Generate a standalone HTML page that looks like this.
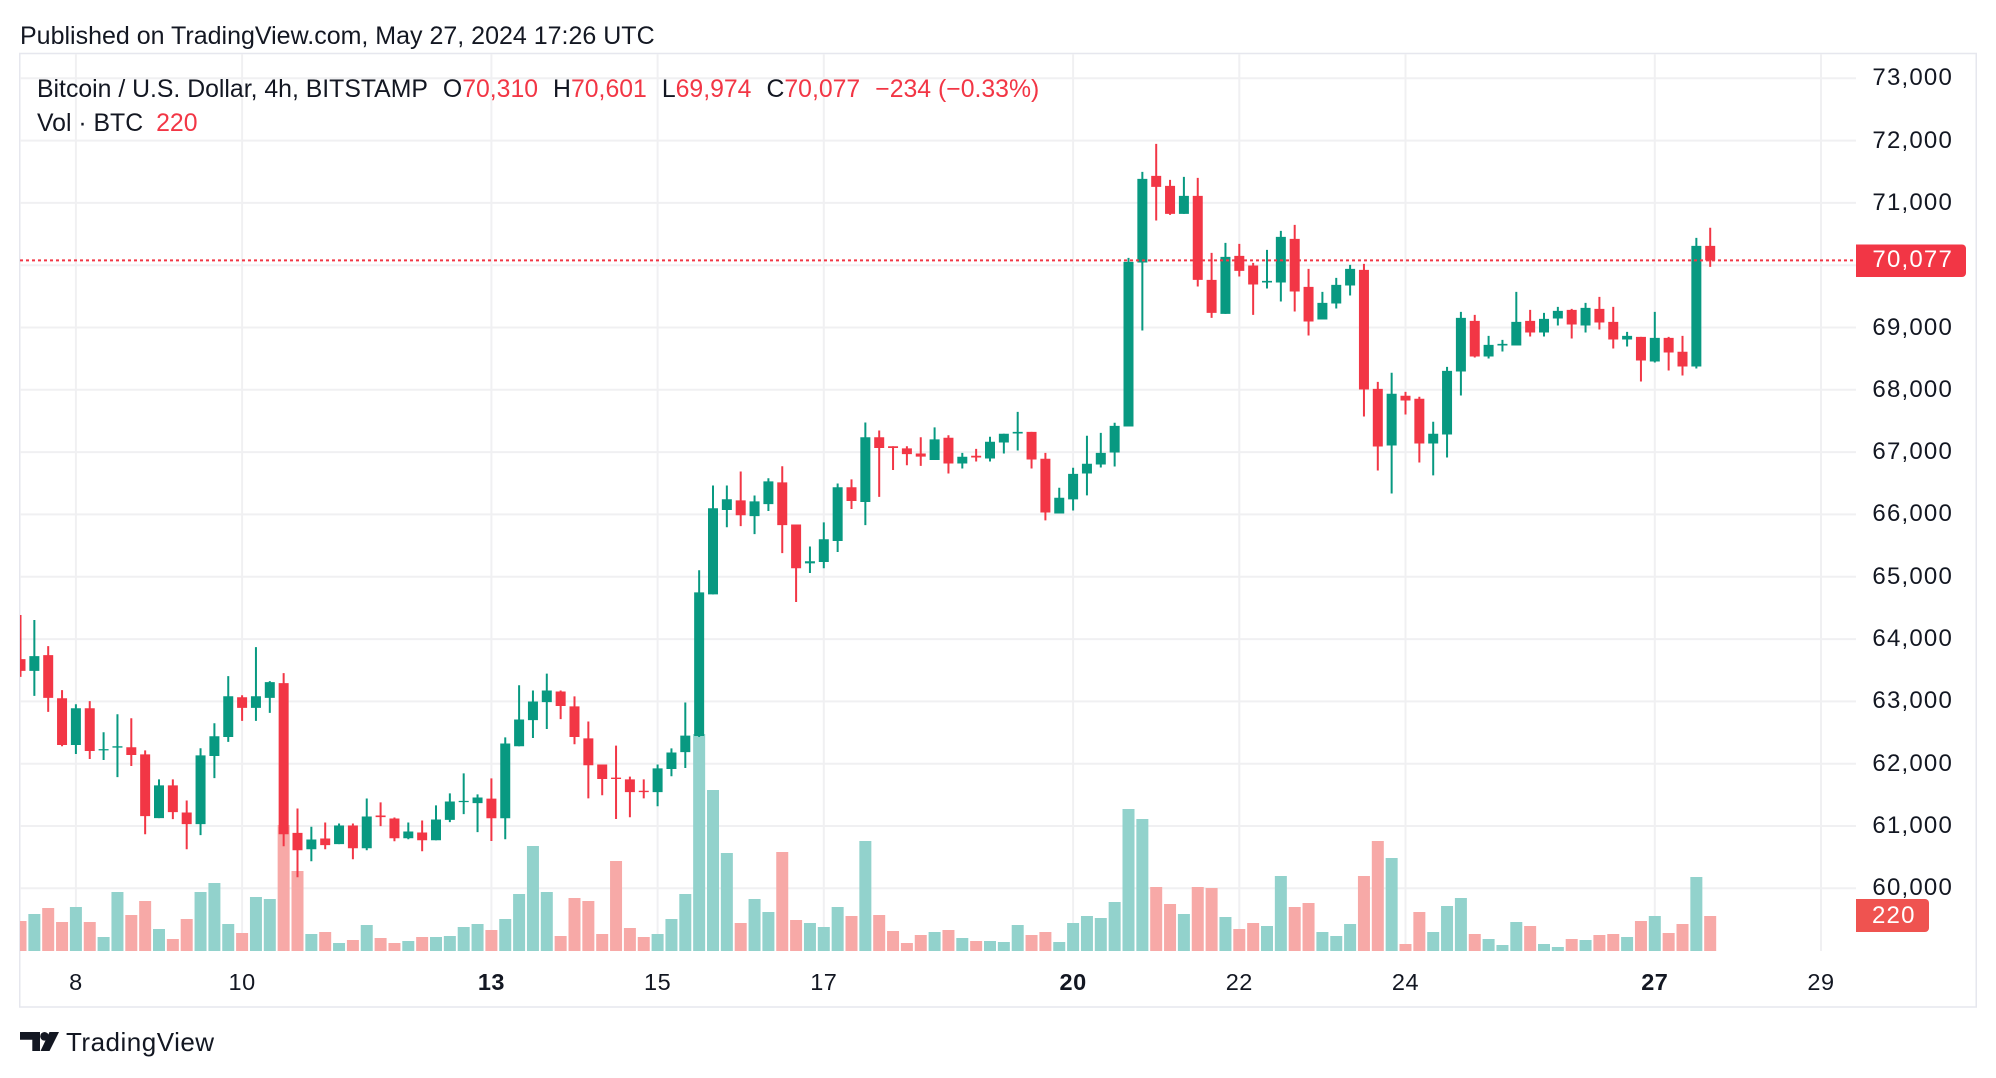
<!DOCTYPE html>
<html><head><meta charset="utf-8"><style>
html,body{margin:0;padding:0;background:#fff;}
body{width:1996px;height:1078px;position:relative;overflow:hidden;font-family:"Liberation Sans",sans-serif;color:#131722;}
.t{position:absolute;white-space:nowrap;line-height:1;}
.r{color:#F23645;}
.ax{position:absolute;left:1860px;width:93px;text-align:right;font-size:24px;line-height:24px;letter-spacing:1.2px;color:#131722;white-space:nowrap;}
.dt{position:absolute;width:80px;text-align:center;font-size:23.5px;line-height:24px;top:969.5px;letter-spacing:0.5px;}
.g{margin-left:15px;}
</style></head><body>
<svg width="1996" height="1078" style="position:absolute;left:0;top:0" xmlns="http://www.w3.org/2000/svg">
<defs><clipPath id="c"><rect x="20" y="54" width="1836" height="897"/></clipPath></defs>
<rect x="19.75" y="53.5" width="1956.5" height="953.5" fill="none" stroke="#E6E7EE" stroke-width="1.5"/>
<path d="M20 888.3H1856M20 826H1856M20 763.7H1856M20 701.4H1856M20 639.1H1856M20 576.8H1856M20 514.4H1856M20 452.1H1856M20 389.8H1856M20 327.5H1856M20 265.2H1856M20 202.9H1856M20 140.6H1856M20 78.3H1856" stroke="#F0F0F2" stroke-width="2" fill="none"/>
<path d="M75.9 54V951M242.1 54V951M491.4 54V951M657.6 54V951M823.8 54V951M1073.1 54V951M1239.3 54V951M1405.5 54V951M1654.8 54V951M1821 54V951" stroke="#F0F0F2" stroke-width="2" fill="none"/>
<g clip-path="url(#c)">
<g transform="translate(75.9 0) scale(13.85 1)" fill="none">
<path vector-effect="non-scaling-stroke" stroke="#92D2CC" stroke-width="12" d="M-3 951V914M0 951V907M2 951V937M3 951V892M6 951V929M9 951V892M10 951V883M11 951V924M13 951V897M14 951V899M17 951V934M19 951V943M21 951V925M24 951V941M26 951V937M27 951V936M28 951V927M29 951V924M31 951V919M32 951V894M33 951V846M34 951V892M42 951V934M43 951V919M44 951V894M45 951V734M46 951V790M47 951V853M49 951V899M50 951V912M53 951V923M54 951V927M55 951V907M57 951V841M62 951V932M64 951V938M66 951V941M67 951V942M68 951V925M71 951V942M72 951V923M73 951V916M74 951V918M75 951V902M76 951V809M77 951V819M80 951V914M83 951V917M86 951V926M87 951V876M90 951V932M91 951V936M92 951V924M95 951V858M98 951V932M99 951V906M100 951V898M102 951V939M103 951V945M104 951V922M106 951V944M107 951V947M109 951V940M112 951V937M114 951V916M117 951V877"/>
<path vector-effect="non-scaling-stroke" stroke="#F7A9A7" stroke-width="12" d="M-4 951V921M-2 951V908M-1 951V922M1 951V922M4 951V915M5 951V901M7 951V939M8 951V919M12 951V933M15 951V825M16 951V871M18 951V932M20 951V940M22 951V938M23 951V943M25 951V937M30 951V930M35 951V936M36 951V898M37 951V901M38 951V934M39 951V861M40 951V928M41 951V937M48 951V923M51 951V852M52 951V920M56 951V916M58 951V915M59 951V931M60 951V943M61 951V935M63 951V930M65 951V941M69 951V935M70 951V932M78 951V887M79 951V904M81 951V887M82 951V888M84 951V929M85 951V923M88 951V907M89 951V903M93 951V876M94 951V841M96 951V944M97 951V912M101 951V934M105 951V926M108 951V939M110 951V935M111 951V934M113 951V921M115 951V933M116 951V924M118 951V916"/>
</g>
<g transform="translate(75.9 888.3) scale(13.85 -0.06231) translate(0 -60000)" fill="none">
<path vector-effect="non-scaling-stroke" stroke="#089981" stroke-width="2" d="M-3 63088V64306M0 62155V62954M2 62059V62504M3 61785V62794M6 61126V61748M9 60853V62247M10 61769V62649M11 62349V63405M13 62686V63871M14 62815V63324M17 60434V60987M19 60708V61040M21 60611V61442M24 60788V61056M26 60772V61330M27 61062V61523M28 61190V61845M29 60901V61507M31 60787V62423M32 62279V63258M33 62412V63175M34 62556V63446M42 61317V61986M43 61798V62246M44 61931V62981M45 62428V65104M46 64717V66464M47 65795V66464M49 65684V66303M50 66055V66580M53 65060V65485M54 65137V65872M55 65397V66497M57 65828V67475M62 66873V67398M64 66738V66989M66 66850V67246M67 66979V67294M68 67027V67647M71 66016V66428M72 66064V66749M73 66305V67262M74 66754V67310M75 66770V67471M76 67412V70118M77 68952V71497M80 70824V71417M83 69219V70358M86 69626V70246M87 69417V70551M90 69128V69572M91 69305V69797M92 69513V70005M95 66337V68273M98 66626V67487M99 66914V68369M100 67909V69251M102 68503V68866M103 68615V68802M104 68711V69572M106 68856V69235M107 69032V69332M109 68920V69396M112 68695V68930M114 68439V69251M117 68342V70438"/>
<path vector-effect="non-scaling-stroke" stroke="#089981" stroke-width="10" d="M-3 63490V63727M0 62300V62890M2 62214V62234M3 62257V62279M6 61126V61651M9 61029V62134M10 62123V62440M11 62429V63083M13 62895V63083M14 63056V63308M17 60627V60783M19 60708V61008M21 60643V61153M24 60804V60912M26 60772V61104M27 61098V61394M28 61383V61403M29 61367V61458M31 61124V62323M32 62279V62710M33 62699V62998M34 62987V63175M42 61544V61925M43 61914V62180M44 62185V62450M45 62445V64750M46 64717V66099M47 66071V66243M49 65972V66210M50 66165V66530M53 65215V65248M54 65237V65601M55 65574V66436M57 66199V67238M62 66873V67205M64 66818V66925M66 66898V67166M67 67155V67294M68 67299V67326M71 66016V66267M72 66241V66652M73 66658V66813M74 66802V66989M75 66995V67422M76 67412V70053M77 70043V71385M80 70824V71112M83 69219V70134M86 69722V69749M87 69722V70455M90 69128V69396M91 69385V69685M92 69674V69941M95 67107V67936M98 67139V67294M99 67283V68305M100 68294V69155M102 68535V68722M103 68711V68738M104 68711V69091M106 68920V69139M107 69144V69267M109 69032V69315M112 68807V68866M114 68455V68834M117 68374V70310"/>
<path vector-effect="non-scaling-stroke" stroke="#F23645" stroke-width="2" d="M-4 63394V64386M-2 62831V63887M-1 62279V63180M1 62075V63003M4 61962V62729M5 60868V62214M7 61110V61748M8 60627V61410M12 62686V63099M15 60675V63453M16 60177V61281M18 60627V61056M20 60466V61040M22 60997V61378M23 60756V61136M25 60595V61088M30 60759V61765M35 62716V63175M36 62312V63081M37 61444V62677M38 61494V61986M39 61113V62290M40 61140V61793M41 61444V61748M48 65812V66690M51 65380V66773M52 64595V65839M56 66088V66563M58 66281V67348M59 66713V67094M60 66790V67094M61 66779V67238M63 66658V67271M65 66850V67053M69 66738V67326M70 65904V66989M78 70717V71947M79 70808V71369M81 69658V71401M82 69155V70198M84 69818V70342M85 69203V70037M88 69257V70647M89 68872V69941M93 67572V70021M94 66706V68128M96 67604V67968M97 66834V67888M101 68519V69203M105 68856V69283M108 68824V69299M110 68968V69492M111 68663V69332M113 68134V68850M115 68310V68850M116 68230V68866M118 69974V70601"/>
<path vector-effect="non-scaling-stroke" stroke="#F23645" stroke-width="10" d="M-4 63490V63678M-2 63056V63743M-1 62300V63051M1 62204V62890M4 62139V62263M5 61158V62150M7 61222V61651M8 61029V61217M12 62895V63067M15 60868V63292M16 60611V60890M18 60692V60799M20 60643V61008M22 61142V61168M23 60804V61120M25 60772V60896M30 61124V61439M35 62926V63158M36 62428V62920M37 61975V62406M38 61754V61986M39 61754V61776M40 61544V61748M41 61544V61566M48 65988V66226M51 65828V66514M52 65137V65839M56 66215V66436M58 67066V67238M59 67066V67094M60 66967V67061M61 66928V66978M63 66818V67230M65 66914V66941M69 66882V67326M70 66032V66893M78 71257V71433M79 70824V71273M81 69765V71112M82 69235V69765M84 69909V70150M85 69690V69995M88 69578V70422M89 69096V69653M93 68005V69925M94 67091V68016M96 67829V67904M97 67139V67856M101 68535V69107M105 68920V69107M108 69048V69283M110 69080V69299M111 68807V69091M113 68471V68850M115 68599V68834M116 68374V68610M118 70077V70310"/>
</g>
<path d="M20 260.4H1856" stroke="#F23645" stroke-width="2" stroke-dasharray="3 3" fill="none"/>
</g>
<path d="M1856 244.5H1962a4 4 0 0 1 4 4V273a4 4 0 0 1-4 4H1856Z" fill="#F23645"/>
<path d="M1856 899H1925a4 4 0 0 1 4 4V928a4 4 0 0 1-4 4H1856Z" fill="#EF5350"/>
<g fill="#131722">
<path d="M20 1032H40V1051H32.3V1039.7H20Z"/>
<circle cx="44.5" cy="1036.3" r="4.3"/>
<path d="M49.5 1032H59L49.5 1051H40.5Z"/>
</g>
</svg>

<div class="t" style="left:20px;top:23.5px;font-size:25px;">Published on TradingView.com, May 27, 2024 17:26 UTC</div>

<div class="t" style="left:37px;top:77.5px;font-size:24.8px;">Bitcoin / U.S. Dollar, 4h, BITSTAMP<span class="g">O<span class="r">70,310</span></span><span class="g">H<span class="r">70,601</span></span><span class="g">L<span class="r">69,974</span></span><span class="g">C<span class="r">70,077</span></span><span class="g r">−234 (−0.33%)</span></div>
<div class="t" style="left:37px;top:111.5px;font-size:24.8px;">Vol · BTC<span class="r" style="margin-left:13px">220</span></div>

<div class="ax" style="top:66.3px">73,000</div>
<div class="ax" style="top:128.6px">72,000</div>
<div class="ax" style="top:190.9px">71,000</div>
<div class="ax" style="top:248.4px;color:#fff">70,077</div>
<div class="ax" style="top:315.5px">69,000</div>
<div class="ax" style="top:377.8px">68,000</div>
<div class="ax" style="top:440.1px">67,000</div>
<div class="ax" style="top:502.4px">66,000</div>
<div class="ax" style="top:564.8px">65,000</div>
<div class="ax" style="top:627.1px">64,000</div>
<div class="ax" style="top:689.4px">63,000</div>
<div class="ax" style="top:751.7px">62,000</div>
<div class="ax" style="top:814px">61,000</div>
<div class="ax" style="top:876.3px">60,000</div>
<div class="ax" style="top:903.5px;left:1872px;width:60px;text-align:left;color:#fff">220</div>

<div class="dt" style="left:35.9px">8</div>
<div class="dt" style="left:202.1px">10</div>
<div class="dt" style="left:451.4px;font-weight:bold">13</div>
<div class="dt" style="left:617.6px">15</div>
<div class="dt" style="left:783.8px">17</div>
<div class="dt" style="left:1033.1px;font-weight:bold">20</div>
<div class="dt" style="left:1199.3px">22</div>
<div class="dt" style="left:1365.5px">24</div>
<div class="dt" style="left:1614.8px;font-weight:bold">27</div>
<div class="dt" style="left:1781px">29</div>

<div class="t" style="left:66px;top:1029px;font-size:26px;letter-spacing:0.5px;">TradingView</div>
</body></html>
